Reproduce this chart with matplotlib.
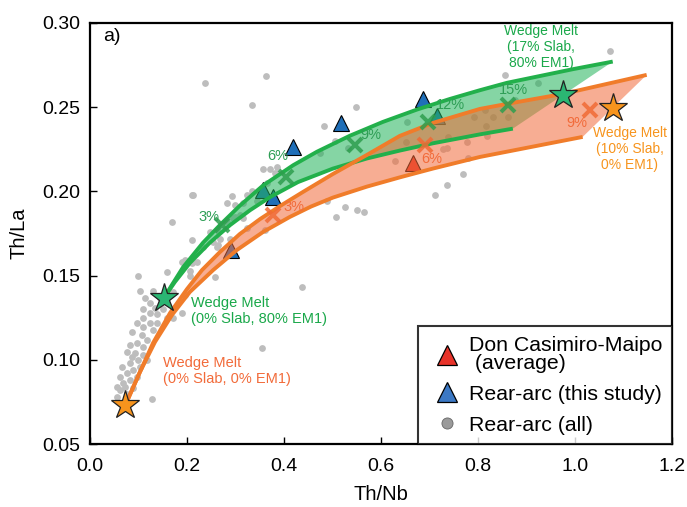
import numpy as np
import matplotlib
matplotlib.use("Agg")
import matplotlib.pyplot as plt
from matplotlib.lines import Line2D

plt.rcParams['font.family'] = ['Liberation Sans', 'DejaVu Sans']

# mixing model curves (Th/Nb, Th/La)
green_up_x = [0.153, 0.169, 0.192, 0.233, 0.268, 0.309, 0.357, 0.419, 0.468, 0.536,
              0.604, 0.674, 0.742, 0.804, 0.860, 0.996, 1.078]
green_up_y = [0.137, 0.1445, 0.155, 0.1695, 0.180, 0.1915, 0.2035, 0.2155, 0.2235, 0.233,
              0.2412, 0.2485, 0.2548, 0.260, 0.2644, 0.2725, 0.277]
green_lo_x = [0.153, 0.175, 0.206, 0.247, 0.289, 0.330, 0.371, 0.429, 0.501, 0.571,
              0.639, 0.707, 0.804, 0.872]
green_lo_y = [0.137, 0.1462, 0.1575, 0.1695, 0.180, 0.1888, 0.1965, 0.2055, 0.2135, 0.2195,
              0.2242, 0.2285, 0.2338, 0.2372]
orange_up_x = [0.072, 0.103, 0.130, 0.165, 0.200, 0.231, 0.268, 0.309, 0.351, 0.392,
               0.439, 0.501, 0.571, 0.639, 0.707, 0.804, 0.860, 0.975, 1.148]
orange_up_y = [0.0726, 0.0928, 0.110, 0.1278, 0.142, 0.1533, 0.164, 0.1747, 0.1836, 0.1913,
               0.1996, 0.2103, 0.2216, 0.2329, 0.2406, 0.2489, 0.2519, 0.2578, 0.2691]
orange_lo_x = [0.072, 0.103, 0.134, 0.169, 0.206, 0.254, 0.303, 0.357, 0.412, 0.456,
               0.501, 0.571, 0.639, 0.707, 0.804, 1.016]
orange_lo_y = [0.0726, 0.0928, 0.1106, 0.1266, 0.1403, 0.1533, 0.1652, 0.1759, 0.1848, 0.1910,
               0.1963, 0.2028, 0.2083, 0.2135, 0.2204, 0.2323]

# slab addition steps
green_x_x = [0.272, 0.404, 0.546, 0.697, 0.862]
green_x_y = [0.180, 0.2086, 0.2276, 0.2412, 0.2513]
green_pct = ['3%', '6%', '9%', '12%', '15%']
green_pct_x = [0.245, 0.388, 0.579, 0.744, 0.874]
green_pct_y = [0.185, 0.221, 0.2335, 0.251, 0.260]
orange_x_x = [0.377, 0.691, 1.031]
orange_x_y = [0.186, 0.2276, 0.2483]
orange_pct = ['3%', '6%', '9%']
orange_pct_x = [0.421, 0.705, 1.004]
orange_pct_y = [0.191, 0.219, 0.2406]

# end members (stars)
green_star_x = [0.153, 0.975]
green_star_y = [0.1367, 0.2572]
orange_star_x = [0.072, 1.078]
orange_star_y = [0.0735, 0.2495]

# samples
dcm_x = [0.666]
dcm_y = [0.2169]
rear_x = [0.419, 0.517, 0.687, 0.716, 0.357, 0.377, 0.290]
rear_y = [0.2264, 0.2406, 0.2549, 0.2448, 0.2008, 0.1967, 0.165]

all_x = [0.210, 0.293, 0.282, 0.324, 0.334, 0.357, 0.381, 0.365, 0.344, 0.315,
         0.295, 0.309, 0.282, 0.262, 0.247, 0.289, 0.268, 0.254, 0.210, 0.233,
         0.169, 0.262, 0.196, 0.210, 0.221, 0.159, 0.099, 0.206, 0.130, 0.103,
         0.144, 0.113, 0.124, 0.151, 0.134, 0.109, 0.124, 0.138, 0.109, 0.171,
         0.190, 0.097, 0.124, 0.138, 0.109, 0.087, 0.130, 0.107, 0.118, 0.097,
         0.109, 0.076, 0.093, 0.109, 0.087, 0.099, 0.082, 0.066, 0.103, 0.089,
         0.076, 0.097, 0.062, 0.082, 0.068, 0.056, 0.089, 0.062, 0.076, 0.056,
         0.128, 0.437, 0.355, 0.258, 0.190, 0.206, 0.171, 0.196, 0.118, 0.072,
         0.082, 0.159, 0.237, 0.363, 0.334, 0.548, 0.482, 0.505, 0.474, 0.532,
         0.386, 0.371, 0.212, 0.299, 0.299, 0.315, 0.324, 0.361, 0.264, 0.489,
         0.526, 0.507, 0.551, 0.565, 0.629, 1.072, 0.856, 0.924, 0.654, 0.792,
         0.814, 0.831, 0.862, 0.876, 0.816, 0.819, 0.738, 0.652, 0.736, 0.777,
         0.728, 0.779, 0.769, 0.736, 0.711]
all_y = [0.198, 0.197, 0.193, 0.198, 0.200, 0.213, 0.211, 0.205, 0.194, 0.193,
         0.184, 0.186, 0.182, 0.177, 0.176, 0.172, 0.172, 0.170, 0.171, 0.167,
         0.182, 0.167, 0.159, 0.1575, 0.158, 0.152, 0.150, 0.150, 0.141, 0.141,
         0.137, 0.137, 0.134, 0.130, 0.131, 0.130, 0.128, 0.127, 0.125, 0.125,
         0.128, 0.122, 0.122, 0.122, 0.1195, 0.1165, 0.118, 0.115, 0.112, 0.110,
         0.1076, 0.1046, 0.104, 0.103, 0.1017, 0.100, 0.098, 0.0957, 0.0957, 0.094,
         0.092, 0.090, 0.090, 0.088, 0.086, 0.084, 0.0833, 0.082, 0.080, 0.078,
         0.0767, 0.143, 0.107, 0.149, 0.158, 0.153, 0.140, 0.1385, 0.100, 0.084,
         0.109, 0.125, 0.264, 0.2685, 0.251, 0.250, 0.239, 0.230, 0.223, 0.226,
         0.2145, 0.213, 0.198, 0.192, 0.185, 0.184, 0.178, 0.177, 0.168, 0.194,
         0.191, 0.185, 0.189, 0.188, 0.218, 0.283, 0.269, 0.264, 0.241, 0.244,
         0.248, 0.244, 0.244, 0.254, 0.239, 0.233, 0.232, 0.229, 0.226, 0.229,
         0.225, 0.220, 0.210, 0.204, 0.198]

green_line = '#22b04b'
green_fill = '#22b35a'
orange_line = '#f07c2a'
orange_fill = '#f26b3a'

fig = plt.figure(figsize=(6.87, 5.07), dpi=100)
ax = fig.add_axes([0.131, 0.124, 0.847, 0.831])

ax.scatter(all_x, all_y, s=24, color='#bdbdbd', linewidths=0, zorder=1)
ax.plot(rear_x, rear_y, '^', ms=12, color='#1f6fb8', mec='black', mew=0.8, zorder=2)
ax.plot(dcm_x, dcm_y, '^', ms=12, color='#e8332a', mec='black', mew=0.8, zorder=2)

ax.fill(green_up_x + green_lo_x[::-1], green_up_y + green_lo_y[::-1],
        color=green_fill, alpha=0.55, lw=0, zorder=3)
ax.fill(orange_up_x + orange_lo_x[::-1], orange_up_y + orange_lo_y[::-1],
        color=orange_fill, alpha=0.55, lw=0, zorder=3)

for xs, ys, c in [(green_up_x, green_up_y, green_line), (green_lo_x, green_lo_y, green_line),
                  (orange_up_x, orange_up_y, orange_line), (orange_lo_x, orange_lo_y, orange_line)]:
    ax.plot(xs, ys, color=c, lw=2.8, solid_capstyle='butt', solid_joinstyle='round', zorder=4)

ax.plot(green_x_x, green_x_y, 'x', ms=10, mew=2.9, color='#2e9e4e', alpha=0.85, zorder=5)
ax.plot(orange_x_x, orange_x_y, 'x', ms=10, mew=2.9, color='#f06a35', alpha=0.85, zorder=5)

for t, x, y in zip(green_pct, green_pct_x, green_pct_y):
    ax.text(x, y, t, color='#2e9e55', fontsize=10.5, ha='center', va='center', zorder=6)
for t, x, y in zip(orange_pct, orange_pct_x, orange_pct_y):
    ax.text(x, y, t, color='#f26b3a', fontsize=10.5, ha='center', va='center', zorder=6)

ax.plot(green_star_x, green_star_y, '*', ms=21, color='#2bb673', mec='#222222', mew=0.9, zorder=7)
ax.plot(orange_star_x, orange_star_y, '*', ms=21, color='#f7941d', mec='#222222', mew=0.9, zorder=7)

ax.text(0.930, 0.2857, 'Wedge Melt\n(17% Slab,\n80% EM1)', color='#1aa84a', fontsize=10,
        ha='center', va='center', linespacing=1.15, multialignment='center')
ax.text(1.113, 0.2252, 'Wedge Melt\n(10% Slab,\n0% EM1)', color='#f7941d', fontsize=10,
        ha='center', va='center', linespacing=1.15, multialignment='center')
ax.text(0.208, 0.129, 'Wedge Melt\n(0% Slab, 80% EM1)', color='#1aa84a', fontsize=10.5,
        ha='left', va='center', linespacing=1.2)
ax.text(0.151, 0.0933, 'Wedge Melt\n(0% Slab, 0% EM1)', color='#f26b3a', fontsize=10.5,
        ha='left', va='center', linespacing=1.2)
ax.text(0.027, 0.2917, 'a)', fontsize=14, ha='left', va='center')

ax.set_xlim(0, 1.2)
ax.set_ylim(0.05, 0.30)
ax.set_xticks(np.arange(0, 1.21, 0.2))
ax.set_yticks(np.arange(0.05, 0.301, 0.05))
ax.set_xticklabels([f'{v:.1f}' for v in np.arange(0, 1.21, 0.2)])
ax.set_yticklabels([f'{v:.2f}' for v in np.arange(0.05, 0.301, 0.05)])
ax.tick_params(direction='in', length=5, width=1, labelsize=14)
ax.tick_params(axis='x', pad=10)
ax.tick_params(axis='y', pad=7)
for s in ax.spines.values():
    s.set_linewidth(1.6)
ax.set_xlabel('Th/Nb', fontsize=14.5, labelpad=7)
ax.set_ylabel('Th/La', fontsize=14.5, labelpad=10)

handles = [
    Line2D([], [], marker='^', ls='', ms=15, color='#e8332a', mec='black', mew=0.9),
    Line2D([], [], marker='^', ls='', ms=15, color='#3b78c4', mec='black', mew=0.9),
    Line2D([], [], marker='o', ls='', ms=8, color='#9a9a9a', mec='#666666', mew=0.6),
]
labels = ['Don Casimiro-Maipo\n (average)', 'Rear-arc (this study)', 'Rear-arc (all)']
leg = ax.legend(handles, labels, loc='lower right', bbox_to_anchor=(1, 0), borderaxespad=0,
                fontsize=15.3, frameon=True, fancybox=False, handlelength=1.8,
                handletextpad=0.15, borderpad=0.45, labelspacing=0.55)
leg.get_texts()[0].set_linespacing(0.95)
leg.get_frame().set_edgecolor('black')
leg.get_frame().set_linewidth(1.5)
leg.set_zorder(10)

fig.savefig('out.png', dpi=100)
